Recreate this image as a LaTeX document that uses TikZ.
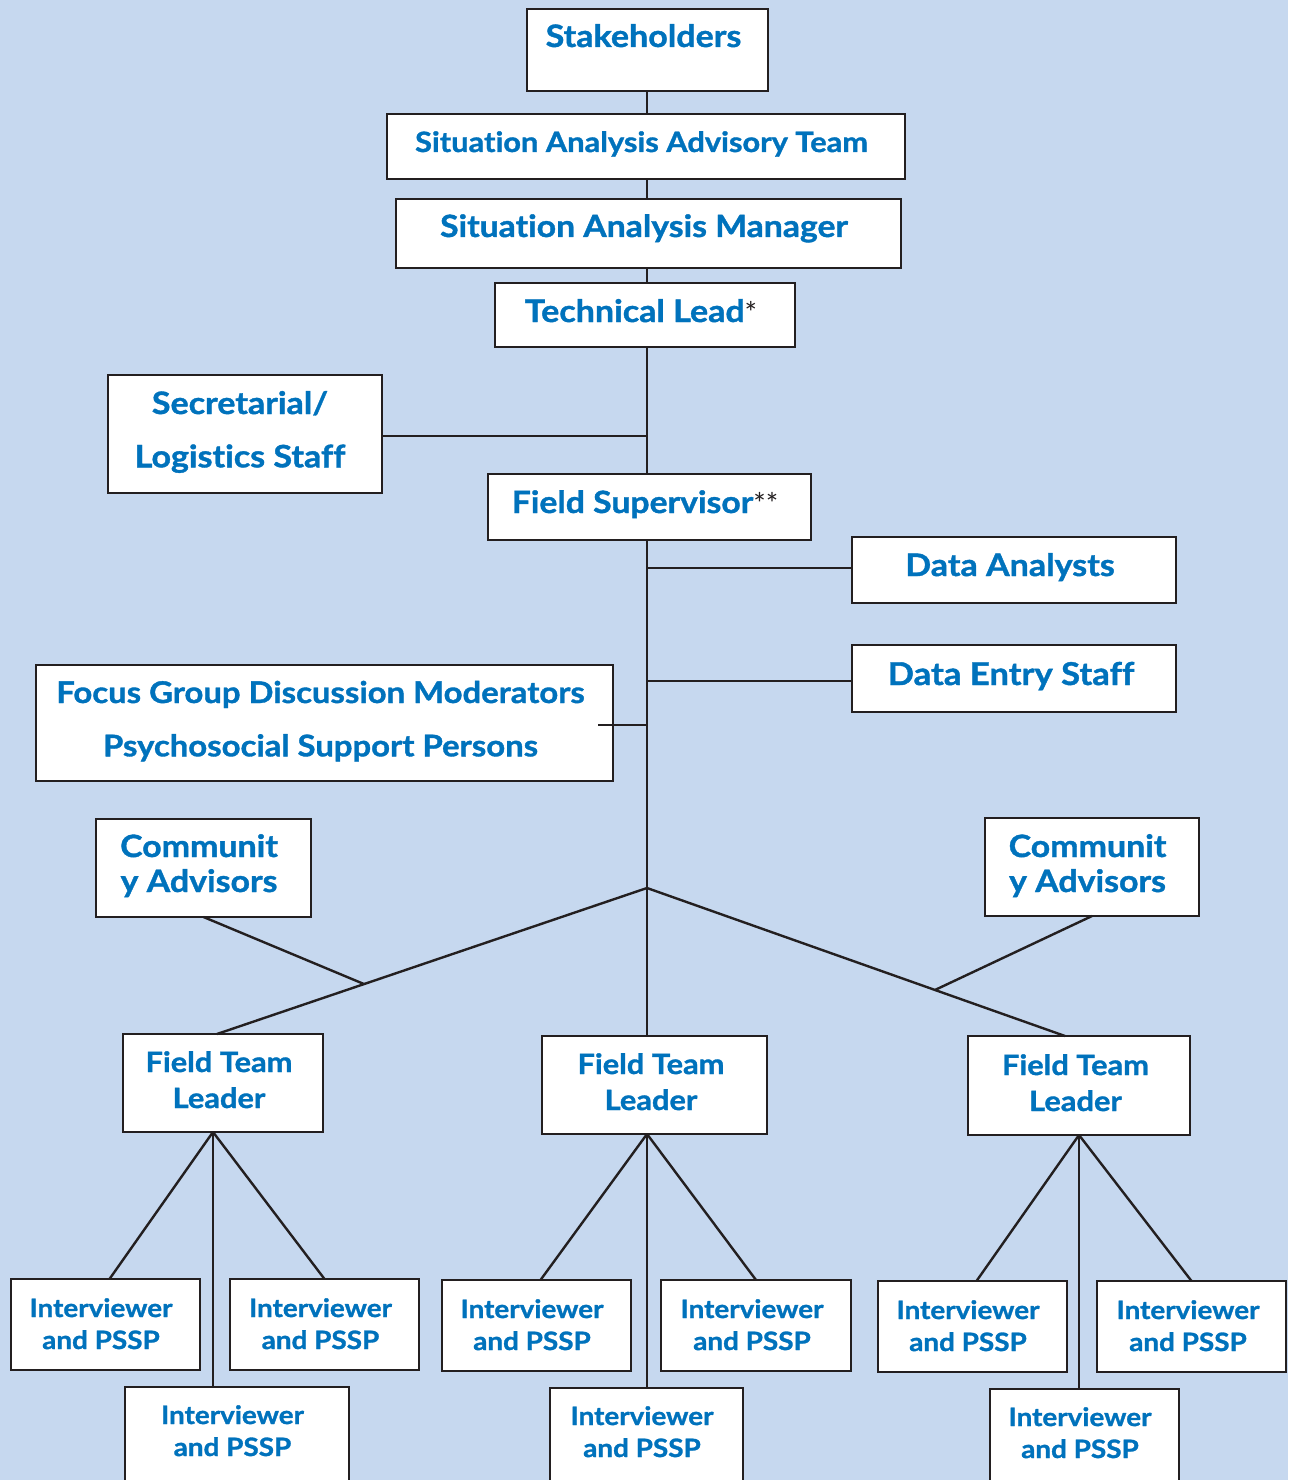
\documentclass[tikz,border=0pt]{standalone}
\usepackage{fontspec}
\setmainfont{Lato}[Ligatures=NoCommon,BoldFeatures={FakeStretch=1.1,FakeBold=1.2}]
\usetikzlibrary{calc}
\definecolor{bgc}{RGB}{198,216,239}
\definecolor{txc}{RGB}{0,114,188}
\definecolor{lnc}{RGB}{35,31,32}
\newcommand\twol[2]{\begin{tabular}[t]{@{}c@{}}#1\\#2\end{tabular}}
\newcommand\bx[5]{\node[box,minimum width={(#4-#2)*0.75pt},minimum height={(#5-#3)*0.75pt}] (#1) at ({(#2+#4)/2},{(#3+#5)/2}) {};}
\newcommand\astk{{\color{lnc}\mdseries\raisebox{-0.05em}{\fontsize{22}{22}\selectfont *}}}
\begin{document}
\begin{tikzpicture}[x=0.75pt,y=-0.75pt,
  box/.style={draw=lnc,fill=white,line width=2.1pt,inner sep=0pt,outer sep=0pt},
  conn/.style={draw=lnc,line width=1.8pt},
  lbl/.style 2 args={text=txc,anchor=base,inner sep=0pt,font=\bfseries\fontsize{#1}{#2}\selectfont}]
\clip (0,0) rectangle (1288,1480);
\fill[bgc] (0,0) rectangle (1288,1480);
% boxes
\bx{stake}{527}{9}{768}{91}
\bx{saat}{387}{114}{905}{179}
\bx{sam}{396}{199}{901}{268}
\bx{tl}{495}{283}{795}{347}
\bx{sec}{108}{375}{382}{493}
\bx{fs}{488}{474}{811}{540}
\bx{da}{852}{537}{1176}{603}
\bx{de}{852}{645}{1176}{712}
\bx{fgd}{36}{665}{613}{781}
\bx{cal}{96}{819}{311}{917}
\bx{car}{985}{818}{1199}{916}
\bx{ftll}{123}{1034}{323}{1132}
\bx{ftlm}{542}{1036}{767}{1134}
\bx{ftlr}{968}{1036}{1190}{1135}
\bx{il1}{11}{1279}{200}{1370}
\bx{il2}{230}{1279}{419}{1370}
\bx{il3}{125}{1387}{349}{1500}
\bx{im1}{442}{1280}{631}{1371}
\bx{im2}{661}{1280}{851}{1371}
\bx{im3}{550}{1388}{743}{1500}
\bx{ir1}{878}{1281}{1067}{1372}
\bx{ir2}{1097}{1281}{1286}{1372}
\bx{ir3}{990}{1389}{1179}{1500}
% texts
\node[lbl={23.2}{27}] (tstake) at (643.5,47) {Stakeholders};
\node[lbl={21}{27}] (tsaat) at (641.5,152) {Situation Analysis Advisory Team};
\node[lbl={23}{27}] (tsam) at (644,237) {Situation Analysis Manager};
\node[lbl={23.2}{27}] (ttl) at (641,322) {Technical Lead\astk};
\node[lbl={23.2}{40}] (tsec) at (240,414) {\twol{Secretarial/}{Logistics Staff}};
\node[lbl={23}{27}] (tfs) at (645,513) {Field Supervisor\astk\astk};
\node[lbl={23.2}{27}] (tda) at (1010,576) {Data Analysts};
\node[lbl={23.6}{27}] (tde) at (1011,685) {Data Entry Staff};
\node[lbl={22.4}{40}] (tfgd) at (320.5,703) {\twol{Focus Group Discussion Moderators}{Psychosocial Support Persons}};
\node[lbl={23.1}{26.25}] (tcal) at (199,857) {\twol{Communit}{y Advisors}};
\node[lbl={23.1}{26.25}] (tcar) at (1087.5,857) {\twol{Communit}{y Advisors}};
\node[lbl={21}{27}] (tftll) at (219,1072) {\twol{Field Team}{Leader}};
\node[lbl={21}{27}] (tftlm) at (651,1074) {\twol{Field Team}{Leader}};
\node[lbl={21}{27}] (tftlr) at (1075.5,1075) {\twol{Field Team}{Leader}};
\node[lbl={19}{24}] (til1) at (101,1317) {\twol{Interviewer}{and PSSP}};
\node[lbl={19}{24}] (til2) at (320.5,1317) {\twol{Interviewer}{and PSSP}};
\node[lbl={19}{24}] (til3) at (232.5,1424) {\twol{Interviewer}{and PSSP}};
\node[lbl={19}{24}] (tim1) at (532,1318) {\twol{Interviewer}{and PSSP}};
\node[lbl={19}{24}] (tim2) at (752,1318) {\twol{Interviewer}{and PSSP}};
\node[lbl={19}{24}] (tim3) at (642,1425) {\twol{Interviewer}{and PSSP}};
\node[lbl={19}{24}] (tir1) at (968,1319) {\twol{Interviewer}{and PSSP}};
\node[lbl={19}{24}] (tir2) at (1188,1319) {\twol{Interviewer}{and PSSP}};
\node[lbl={19}{24}] (tir3) at (1080,1426) {\twol{Interviewer}{and PSSP}};
% connectors
\coordinate (tx) at (647,0);
\coordinate (hub) at (647,888);
\draw[conn] (tx |- stake.south) -- (tx |- saat.north);
\draw[conn] (tx |- saat.south) -- (tx |- sam.north);
\draw[conn] (tx |- sam.south) -- (tx |- tl.north);
\draw[conn] (tx |- tl.south) -- (tx |- fs.north);
\coordinate (secR) at ($(sec.east)+(0,2)$);
\draw[conn] (secR) -- (secR -| tx);
\draw[conn] (tx |- fs.south) -- (hub) -- (tx |- ftlm.north);
\coordinate (daL) at ($(da.west)+(0,-2)$);
\draw[conn] (daL) -- (daL -| tx);
\coordinate (deL) at ($(de.west)+(0,2.5)$);
\draw[conn] (deL) -- (deL -| tx);
\coordinate (fgdin) at ($(fgd.east)+(-15,2)$);
\draw[conn] (fgdin) -- (fgdin -| tx);
\coordinate (ftlLtop) at ($(ftll.north)+(-6,0)$);
\coordinate (ftlRtop) at ($(ftlr.north)+(-14,0)$);
\draw[conn] (hub) -- (ftlLtop);
\draw[conn] (hub) -- (ftlRtop);
\draw[conn] (cal.south) -- ($(hub)!0.658!(ftlLtop)$);
\draw[conn] (car.south) -- ($(hub)!0.689!(ftlRtop)$);
\coordinate (fL) at ($(ftll.south)+(-10,0)$);
\coordinate (fM) at ($(ftlm.south)+(-7.5,0)$);
\coordinate (fR) at (ftlr.south);
\draw[conn] (fL) -- ($(il1.north)+(4,0)$);
\draw[conn] (fL) -- (il2.north);
\draw[conn] (fL) -- (fL |- il3.north);
\draw[conn] (fM) -- ($(im1.north)+(4,0)$);
\draw[conn] (fM) -- (im2.north);
\draw[conn] (fM) -- (fM |- im3.north);
\draw[conn] (fR) -- ($(ir1.north)+(4,0)$);
\draw[conn] (fR) -- (ir2.north);
\draw[conn] (fR) -- (fR |- ir3.north);
\end{tikzpicture}
\end{document}
